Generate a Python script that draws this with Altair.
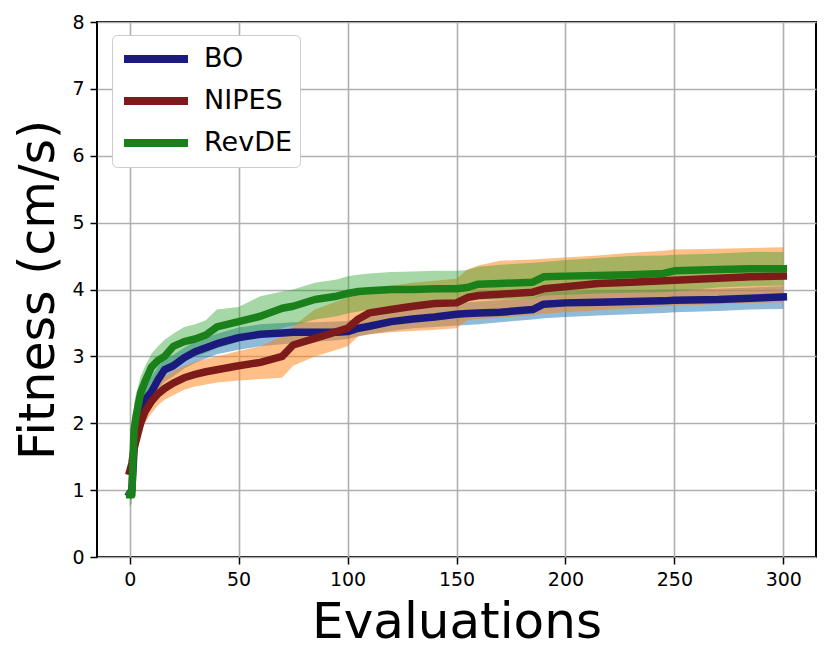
import altair as alt
import pandas as pd

evals = [0, 1, 2, 3, 5, 7, 10, 13, 16, 20, 25, 30, 35, 40, 50, 60, 70, 75, 85, 95,
         100, 105, 110, 120, 130, 140, 150, 155, 160, 170, 185, 190, 200, 215, 230,
         245, 250, 270, 285, 300]

bo_mean = [0.95, 1.0, 1.6, 1.95, 2.2, 2.35, 2.47, 2.65, 2.8, 2.86, 2.98, 3.07, 3.13, 3.19,
           3.28, 3.33, 3.35, 3.36, 3.36, 3.36, 3.37, 3.42, 3.45, 3.52, 3.56, 3.59, 3.63,
           3.64, 3.65, 3.66, 3.7, 3.78, 3.8, 3.81, 3.82, 3.83, 3.84, 3.85, 3.87, 3.89]
bo_lo = [0.9, 0.95, 1.4, 1.75, 2.0, 2.15, 2.3, 2.5, 2.62, 2.7, 2.82, 2.9, 2.97, 3.03,
         3.1, 3.15, 3.18, 3.2, 3.22, 3.24, 3.26, 3.3, 3.33, 3.38, 3.42, 3.44, 3.46,
         3.47, 3.48, 3.51, 3.55, 3.57, 3.59, 3.61, 3.63, 3.65, 3.66, 3.68, 3.7, 3.71]
bo_hi = [1.0, 1.05, 1.8, 2.15, 2.4, 2.55, 2.7, 2.85, 2.97, 3.02, 3.13, 3.22, 3.28, 3.34,
         3.43, 3.48, 3.5, 3.51, 3.51, 3.52, 3.53, 3.58, 3.61, 3.68, 3.72, 3.76, 3.8,
         3.81, 3.82, 3.84, 3.87, 3.95, 3.97, 3.98, 3.99, 4.0, 4.0, 4.01, 4.03, 4.05]

nipes_mean = [1.28, 1.4, 1.62, 1.75, 2.0, 2.17, 2.33, 2.44, 2.52, 2.6, 2.68, 2.73, 2.77, 2.8,
              2.86, 2.91, 3.0, 3.17, 3.27, 3.37, 3.42, 3.56, 3.65, 3.7, 3.75, 3.79, 3.8,
              3.88, 3.91, 3.93, 3.96, 4.01, 4.04, 4.09, 4.11, 4.13, 4.14, 4.17, 4.19, 4.2]
nipes_lo = [1.25, 1.3, 1.45, 1.6, 1.85, 2.0, 2.15, 2.27, 2.35, 2.42, 2.5, 2.55, 2.58, 2.61,
            2.64, 2.66, 2.68, 2.86, 3.0, 3.1, 3.15, 3.3, 3.33, 3.36, 3.38, 3.4, 3.42,
            3.54, 3.56, 3.58, 3.62, 3.64, 3.66, 3.69, 3.72, 3.75, 3.76, 3.78, 3.8, 3.81]
nipes_hi = [1.32, 1.5, 1.8, 1.95, 2.2, 2.35, 2.52, 2.62, 2.7, 2.78, 2.86, 2.92, 2.96, 3.0,
            3.08, 3.15, 3.3, 3.45, 3.7, 3.82, 3.88, 3.95, 4.0, 4.06, 4.1, 4.13, 4.16,
            4.3, 4.36, 4.43, 4.45, 4.46, 4.48, 4.51, 4.55, 4.58, 4.6, 4.61, 4.62, 4.63]

revde_mean = [0.93, 0.93, 1.9, 2.12, 2.45, 2.62, 2.84, 2.94, 3.0, 3.15, 3.22, 3.26, 3.32, 3.44,
              3.52, 3.6, 3.72, 3.75, 3.85, 3.9, 3.94, 3.97, 3.98, 4.0, 4.0, 4.01, 4.01,
              4.03, 4.08, 4.09, 4.11, 4.19, 4.2, 4.21, 4.22, 4.24, 4.28, 4.3, 4.31, 4.31]
revde_lo = [0.75, 0.8, 1.6, 1.9, 2.2, 2.4, 2.6, 2.72, 2.78, 2.88, 2.95, 3.0, 3.05, 3.12,
            3.22, 3.3, 3.42, 3.46, 3.55, 3.6, 3.64, 3.67, 3.7, 3.74, 3.77, 3.79, 3.82,
            3.84, 3.85, 3.85, 3.86, 3.91, 3.92, 3.94, 3.95, 3.96, 3.97, 4.03, 4.05, 4.06]
revde_hi = [1.0, 1.1, 2.3, 2.45, 2.7, 2.85, 3.04, 3.15, 3.25, 3.34, 3.44, 3.48, 3.54, 3.7,
            3.74, 3.9, 3.97, 4.0, 4.1, 4.15, 4.2, 4.22, 4.24, 4.26, 4.27, 4.28, 4.28,
            4.29, 4.34, 4.37, 4.4, 4.41, 4.44, 4.47, 4.5, 4.51, 4.52, 4.54, 4.56, 4.56]

algorithms = ["BO", "NIPES", "RevDE"]
line_colors = ["#1b1b7d", "#7d1a1a", "#1a801a"]
band_colors = ["#1f77b4", "#ff7f0e", "#2ca02c"]
band_opac = [0.5, 0.5, 0.42]

series = {
    "BO": (bo_mean, bo_lo, bo_hi),
    "NIPES": (nipes_mean, nipes_lo, nipes_hi),
    "RevDE": (revde_mean, revde_lo, revde_hi),
}

rows = []
for alg in algorithms:
    m, lo, hi = series[alg]
    for i, x in enumerate(evals):
        rows.append({"alg": alg, "x": x, "mean": m[i], "lo": lo[i], "hi": hi[i]})
df = pd.DataFrame(rows)

xscale = alt.Scale(domain=[-15, 315], nice=False, zero=False)
yscale = alt.Scale(domain=[0, 8], nice=False, zero=False)

axis_common = dict(grid=True, gridColor="#b0b0b0", gridWidth=1.6, domain=False,
                   tickColor="black", tickWidth=1.5, tickSize=7, labelFontSize=19,
                   labelFont="DejaVu Sans", titleFont="DejaVu Sans", labelColor="black",
                   titleColor="black", labelPadding=6, titleFontWeight="normal")

xaxis = alt.Axis(values=[0, 50, 100, 150, 200, 250, 300], title="Evaluations",
                 titleFontSize=50, titleX=359.5, titleY=80,
                 titleBaseline="alphabetic", titleAlign="center", **axis_common)
yaxis = alt.Axis(values=list(range(0, 9)), title="Fitness (cm/s)",
                 titleFontSize=49, titleX=-44, titleY=267.5,
                 titleBaseline="alphabetic", titleAlign="center", titleAngle=270,
                 **axis_common)

base = alt.Chart(df)

layers = []
for alg, col, op in zip(algorithms, band_colors, band_opac):
    layers.append(
        base.transform_filter(alt.datum.alg == alg)
        .mark_area(color=col, opacity=op)
        .encode(x=alt.X("x:Q", scale=xscale, axis=xaxis),
                y=alt.Y("lo:Q", scale=yscale, axis=yaxis),
                y2="hi:Q")
    )

lines = base.mark_line(strokeWidth=7.5, strokeCap="square", strokeJoin="round").encode(
    x=alt.X("x:Q", scale=xscale, axis=xaxis),
    y=alt.Y("mean:Q", scale=yscale, axis=yaxis),
    color=alt.Color("alg:N", scale=alt.Scale(domain=algorithms, range=line_colors),
                    legend=alt.Legend(title=None, orient="none", legendX=15, legendY=13,
                                      symbolType="stroke", symbolSize=4096,
                                      symbolStrokeWidth=8, labelFontSize=27,
                                      labelOffset=12, clipHeight=32, rowPadding=10,
                                      padding=8, fillColor="white",
                                      strokeColor="#cccccc", cornerRadius=5,
                                      labelFont="DejaVu Sans", labelColor="black")),
    order="x:Q",
)
layers.append(lines)

chart = alt.layer(*layers).properties(
    width=719, height=535,
    autosize=alt.AutoSizeParams(type="none"),
    padding={"left": 89, "top": 14, "right": 5, "bottom": 92},
).configure(font="DejaVu Sans").configure_view(stroke="black", strokeWidth=2)

chart.save("out.html", embed_options={"renderer": "svg", "actions": False})
